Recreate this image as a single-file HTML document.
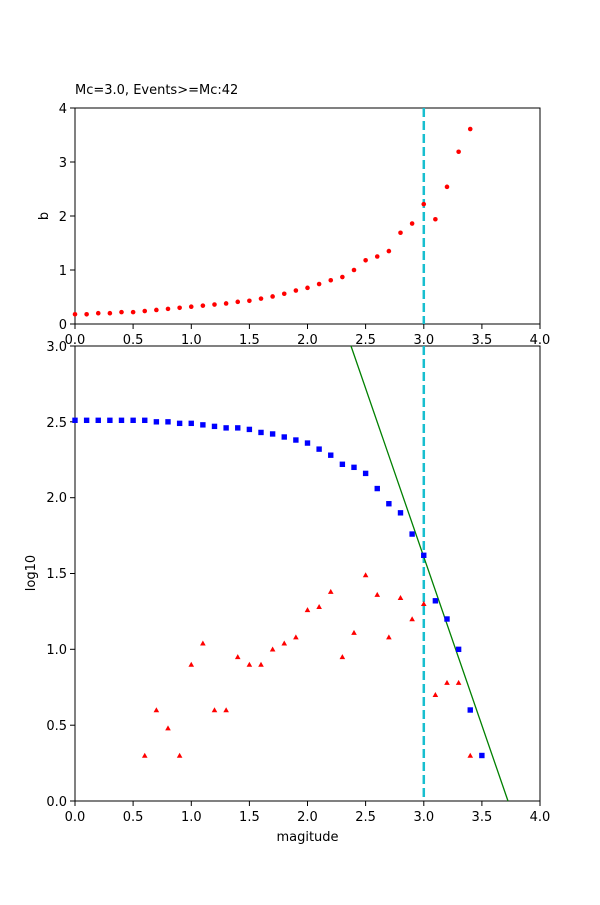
<!DOCTYPE html>
<html><head><style>
body{margin:0;background:#fff}
svg text{font-family:"DejaVu Sans","Liberation Sans",sans-serif;font-size:13px;fill:#000}
</style></head><body>
<svg id="s" width="600" height="900" xmlns="http://www.w3.org/2000/svg">
<rect width="600" height="900" fill="#fff"/>
<!-- top axes -->
<rect x="75" y="108" width="465" height="216" fill="none" stroke="#000" stroke-width="1"/>
<g stroke="#000">
<line x1="75" y1="324" x2="75" y2="329"/><line x1="133.1" y1="324" x2="133.1" y2="329"/><line x1="191.3" y1="324" x2="191.3" y2="329"/><line x1="249.4" y1="324" x2="249.4" y2="329"/><line x1="307.5" y1="324" x2="307.5" y2="329"/><line x1="365.6" y1="324" x2="365.6" y2="329"/><line x1="423.8" y1="324" x2="423.8" y2="329"/><line x1="481.9" y1="324" x2="481.9" y2="329"/><line x1="540" y1="324" x2="540" y2="329"/>
<line x1="70" y1="324" x2="75" y2="324"/><line x1="70" y1="270" x2="75" y2="270"/><line x1="70" y1="216" x2="75" y2="216"/><line x1="70" y1="162" x2="75" y2="162"/><line x1="70" y1="108" x2="75" y2="108"/>
</g>
<g text-anchor="middle">
<text x="75" y="344">0.0</text><text x="133.1" y="344">0.5</text><text x="191.3" y="344">1.0</text><text x="249.4" y="344">1.5</text><text x="307.5" y="344">2.0</text><text x="365.6" y="344">2.5</text><text x="423.8" y="344">3.0</text><text x="481.9" y="344">3.5</text><text x="540" y="344">4.0</text>
</g>
<g text-anchor="end">
<text x="67" y="329">0</text><text x="67" y="275">1</text><text x="67" y="221">2</text><text x="67" y="167">3</text><text x="67" y="113">4</text>
</g>
<text x="48" y="216" text-anchor="middle" transform="rotate(-90 48 216)">b</text>
<text x="75" y="94">Mc=3.0, Events&gt;=Mc:42</text>
<line x1="423.8" y1="108" x2="423.8" y2="324" stroke="#17becf" stroke-width="2.5" stroke-dasharray="9,4"/>
<!-- bottom axes -->
<rect x="75" y="346" width="465" height="455" fill="none" stroke="#000" stroke-width="1"/>
<g stroke="#000">
<line x1="75" y1="801" x2="75" y2="806"/><line x1="133.1" y1="801" x2="133.1" y2="806"/><line x1="191.3" y1="801" x2="191.3" y2="806"/><line x1="249.4" y1="801" x2="249.4" y2="806"/><line x1="307.5" y1="801" x2="307.5" y2="806"/><line x1="365.6" y1="801" x2="365.6" y2="806"/><line x1="423.8" y1="801" x2="423.8" y2="806"/><line x1="481.9" y1="801" x2="481.9" y2="806"/><line x1="540" y1="801" x2="540" y2="806"/>
<line x1="70" y1="801" x2="75" y2="801"/><line x1="70" y1="725.2" x2="75" y2="725.2"/><line x1="70" y1="649.3" x2="75" y2="649.3"/><line x1="70" y1="573.5" x2="75" y2="573.5"/><line x1="70" y1="497.7" x2="75" y2="497.7"/><line x1="70" y1="421.8" x2="75" y2="421.8"/><line x1="70" y1="346" x2="75" y2="346"/>
</g>
<g text-anchor="middle">
<text x="75" y="821">0.0</text><text x="133.1" y="821">0.5</text><text x="191.3" y="821">1.0</text><text x="249.4" y="821">1.5</text><text x="307.5" y="821">2.0</text><text x="365.6" y="821">2.5</text><text x="423.8" y="821">3.0</text><text x="481.9" y="821">3.5</text><text x="540" y="821">4.0</text>
</g>
<g text-anchor="end">
<text x="67" y="806">0.0</text><text x="67" y="730">0.5</text><text x="67" y="654">1.0</text><text x="67" y="578">1.5</text><text x="67" y="502">2.0</text><text x="67" y="427">2.5</text><text x="67" y="351">3.0</text>
</g>
<text x="307.5" y="841" text-anchor="middle">magitude</text>
<text x="35" y="573" text-anchor="middle" transform="rotate(-90 35 573)">log10</text>
<line x1="423.8" y1="346" x2="423.8" y2="801" stroke="#17becf" stroke-width="2.5" stroke-dasharray="9,4"/>
<line x1="351" y1="346" x2="508" y2="801" stroke="#008000" stroke-width="1.3"/>
<g id="gTop"></g><g id="gBot"></g>
</svg>
<script>
var NS="http://www.w3.org/2000/svg";
function el(p,t,a){var e=document.createElementNS(NS,t);for(var k in a)e.setAttribute(k,a[k]);p.appendChild(e);}
var gT=document.getElementById("gTop"),gB=document.getElementById("gBot");
var b=[0.18,0.18,0.2,0.2,0.22,0.22,0.24,0.26,0.28,0.3,0.32,0.34,0.36,0.38,0.41,0.43,0.47,0.51,0.56,0.62,0.67,0.74,0.81,0.87,1.0,1.18,1.25,1.35,1.69,1.86,2.22,1.94,2.54,3.19,3.61];
b.forEach(function(v,i){el(gT,"circle",{cx:75+i*11.625,cy:324-v*54,r:2.3,fill:"red"});});
var bl=[2.51,2.51,2.51,2.51,2.51,2.51,2.51,2.5,2.5,2.49,2.49,2.48,2.47,2.46,2.46,2.45,2.43,2.42,2.4,2.38,2.36,2.32,2.28,2.22,2.2,2.16,2.06,1.96,1.9,1.76,1.62,1.32,1.2,1.0,0.6,0.3];
bl.forEach(function(v,i){var x=75+i*11.625,y=801-v*151.67;el(gB,"rect",{x:x-2.7,y:y-2.7,width:5.4,height:5.4,fill:"blue"});});
var tr=[[0.6,0.3],[0.7,0.6],[0.8,0.48],[0.9,0.3],[1.0,0.9],[1.1,1.04],[1.2,0.6],[1.3,0.6],[1.4,0.95],[1.5,0.9],[1.6,0.9],[1.7,1.0],[1.8,1.04],[1.9,1.08],[2.0,1.26],[2.1,1.28],[2.2,1.38],[2.3,0.95],[2.4,1.11],[2.5,1.49],[2.6,1.36],[2.7,1.08],[2.8,1.34],[2.9,1.2],[3.0,1.3],[3.1,0.7],[3.2,0.78],[3.3,0.78],[3.4,0.3]];
tr.forEach(function(p){var x=75+p[0]*116.25,y=801-p[1]*151.67;el(gB,"polygon",{points:(x-2.8)+","+(y+2.2)+" "+(x+2.8)+","+(y+2.2)+" "+x+","+(y-2.8),fill:"red"});});
</script>
</body></html>
